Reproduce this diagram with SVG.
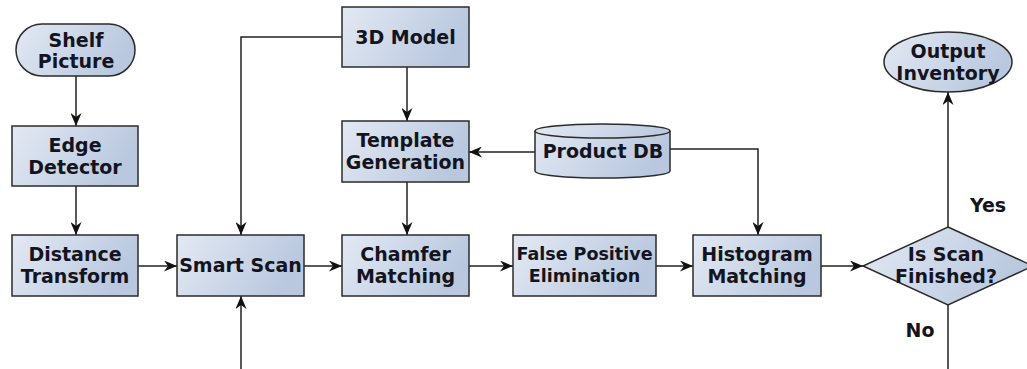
<svg xmlns="http://www.w3.org/2000/svg" width="1027" height="369" viewBox="0 0 1027 369">
<defs>
<linearGradient id="g" x1="0" y1="0" x2="1" y2="0.3">
<stop offset="0" stop-color="#e3e9f3"/>
<stop offset="1" stop-color="#b9c8df"/>
</linearGradient>
<marker id="ah" viewBox="0 0 13 11" refX="13" refY="5.5" markerWidth="13" markerHeight="11" markerUnits="userSpaceOnUse" orient="auto">
<path d="M0,0 L13,5.5 L0,11 L4,5.5 z" fill="#111"/>
</marker>
<style>
.n{fill:url(#g);stroke:#2b2b2b;stroke-width:1.5}
.t{font-family:"DejaVu Sans",sans-serif;font-weight:bold;font-size:19px;fill:#141420;text-anchor:middle}
.c{fill:none;stroke:#222;stroke-width:1.5}
.a{marker-end:url(#ah)}
</style>
</defs>
<rect width="1027" height="369" fill="#fff"/>
<g id="connectors">
<path class="c a" d="M76,76 V126"/>
<path class="c a" d="M76,186 V235"/>
<path class="c a" d="M138,266 H177"/>
<path class="c a" d="M342,37 H241 V235"/>
<path class="c a" d="M241,369 V296"/>
<path class="c a" d="M407,67 V121"/>
<path class="c a" d="M535,152 H469"/>
<path class="c a" d="M670,149 H758 V235"/>
<path class="c a" d="M407,182 V235"/>
<path class="c a" d="M304,266 H342"/>
<path class="c a" d="M469,266 H513"/>
<path class="c a" d="M656,266 H693"/>
<path class="c a" d="M821,266 H863"/>
<path class="c a" d="M948,227 V92"/>
<path class="c" d="M948,305 V369"/>
<text class="t" x="988" y="212">Yes</text>
<text class="t" x="920" y="337">No</text>
</g>
<g id="shelf-picture">
<rect class="n" x="16" y="24" width="119" height="52" rx="26"/>
<text class="t" x="76" y="47">Shelf</text>
<text class="t" x="76" y="68">Picture</text>
</g>
<g id="edge-detector">
<rect class="n" x="12" y="126" width="126" height="60"/>
<text class="t" x="75" y="152">Edge</text>
<text class="t" x="75" y="174">Detector</text>
</g>
<g id="distance-transform">
<rect class="n" x="12" y="235" width="126" height="61"/>
<text class="t" x="75" y="261">Distance</text>
<text class="t" x="75" y="283">Transform</text>
</g>
<g id="smart-scan">
<rect class="n" x="177" y="235" width="127" height="61"/>
<text class="t" x="240.5" y="272">Smart Scan</text>
</g>
<g id="3d-model">
<rect class="n" x="342" y="7" width="127" height="60"/>
<text class="t" x="405.5" y="44">3D Model</text>
</g>
<g id="template-generation">
<rect class="n" x="342" y="121" width="127" height="61"/>
<text class="t" x="405.5" y="147">Template</text>
<text class="t" x="405.5" y="169">Generation</text>
</g>
<g id="chamfer-matching">
<rect class="n" x="342" y="235" width="127" height="61"/>
<text class="t" x="405.5" y="261">Chamfer</text>
<text class="t" x="405.5" y="283">Matching</text>
</g>
<g id="false-positive-elimination">
<rect class="n" x="513" y="235" width="143" height="61"/>
<text class="t" x="584.5" y="260" style="font-size:17.5px">False Positive</text>
<text class="t" x="584.5" y="282" style="font-size:17.5px">Elimination</text>
</g>
<g id="product-db">
<path class="n" d="M535,131 A67.5,7 0 0 1 670,131 V171 A67.5,7 0 0 1 535,171 Z"/>
<path class="c" d="M535,131 A67.5,7 0 0 0 670,131" style="stroke:#2b2b2b"/>
<text class="t" x="603" y="158">Product DB</text>
</g>
<g id="histogram-matching">
<rect class="n" x="693" y="235" width="128" height="61"/>
<text class="t" x="757" y="261">Histogram</text>
<text class="t" x="757" y="283">Matching</text>
</g>
<g id="is-scan-finished">
<polygon class="n" points="948,227 1033,266 948,305 863,266"/>
<text class="t" x="946" y="261">Is Scan</text>
<text class="t" x="946" y="283">Finished?</text>
</g>
<g id="output-inventory">
<ellipse class="n" cx="948" cy="62" rx="64" ry="30"/>
<text class="t" x="948" y="58">Output</text>
<text class="t" x="948" y="80">Inventory</text>
</g>
</svg>
